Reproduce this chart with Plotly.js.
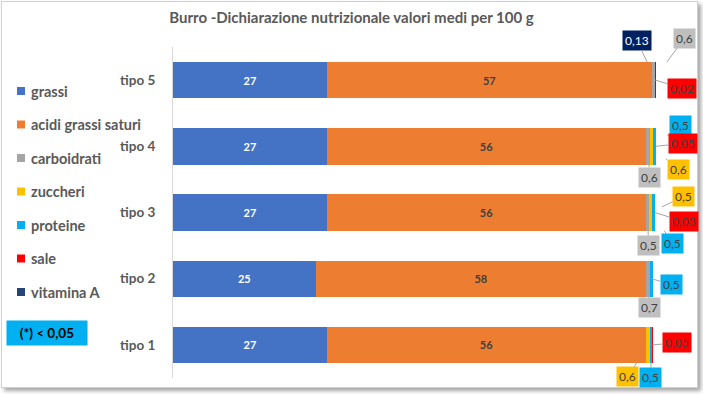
<!DOCTYPE html>
<html>
<head>
<meta charset="utf-8">
<script src="https://cdn.plot.ly/plotly-3.0.1.min.js"></script>
<style>
  html, body { margin:0; padding:0; background:#ffffff; }
  #frame { position:absolute; left:1px; top:1px; width:695px; height:385px; border:1px solid #d0d0d0; background:#ffffff; box-shadow:3px 3px 4px rgba(0,0,0,0.35); }
  #chart { position:absolute; left:0; top:0; width:703px; height:394px; }
</style>
</head>
<body>
<div id="frame"></div>
<div id="chart"></div>
<script>
// ---- data ----
const categories = ['tipo 1', 'tipo 2', 'tipo 3', 'tipo 4', 'tipo 5'];
const grassi = [27, 25, 27, 27, 27];
const acidiGrassiSaturi = [56, 58, 56, 56, 57];
const carboidrati = [null, 0.7, 0.5, 0.6, 0.6];
const zuccheri = [0.6, null, 0.5, 0.6, null];
const proteine = [0.5, 0.5, 0.5, 0.5, null];
const sale = [0.05, null, 0.03, 0.05, 0.02];
const vitaminaA = [null, null, null, null, 0.13];
const seriesNames = ['grassi', 'acidi grassi saturi', 'carboidrati', 'zuccheri', 'proteine', 'sale', 'vitamina A'];
const noteText = '(*) < 0,05';
const titleText = 'Burro -Dichiarazione nutrizionale valori medi per 100 g';

// ---- styles ----
const seriesValues = [grassi, acidiGrassiSaturi, carboidrati, zuccheri, proteine, sale, vitaminaA];
const colors = ['#4472C4', '#ED7D31', '#A5A5A5', '#FFC000', '#00B0F0', '#FF0000', '#264478'];
const calloutBg = ['#4472C4', '#ED7D31', '#BFBFBF', '#FFC000', '#00B0F0', '#FF0000', '#002060'];
const calloutFont = ['#404040', '#404040', '#404040', '#404040', '#404040', '#404040', '#FFFFFF'];
const FONT = 'Lato, "DejaVu Sans", sans-serif';
const W = 703, H = 394;
const M = {l: 173, r: 17, t: 47, b: 16};
const PW = W - M.l - M.r, PH = H - M.t - M.b;
const px2x = px => (px - M.l) / PW;
const py2y = py => (H - M.b - py) / PH;

// callout label offsets in pixels (label centre relative to segment centre)
const calloutOffsets = {
  'carboidrati': {'tipo 5': [31, -42], 'tipo 4': [2, 31], 'tipo 3': [1, 33], 'tipo 2': [1, 29]},
  'zuccheri': {'tipo 4': [27, 23], 'tipo 3': [33, -16], 'tipo 1': [-20, 32]},
  'proteine': {'tipo 4': [26, -21], 'tipo 3': [19, 31], 'tipo 2': [20, 6], 'tipo 1': [0, 33]},
  'sale': {'tipo 5': [27, 8], 'tipo 4': [27, -3], 'tipo 3': [29, 9], 'tipo 1': [24, -2]},
  'vitamina A': {'tipo 5': [-19, -40]}
};

const fmt = v => String(v).replace('.', ',');

const traces = seriesNames.map((name, i) => {
  const t = {
    type: 'bar', orientation: 'h', name: name,
    y: categories, x: seriesValues[i],
    marker: {color: colors[i], line: {width: 0}},
    hoverinfo: 'name+x', showlegend: false
  };
  if (i < 2) {
    t.text = seriesValues[i].map(v => v == null ? '' : fmt(v));
    t.texttemplate = '%{text}';
    t.textposition = 'inside';
    t.insidetextanchor = 'middle';
    t.textfont = {family: FONT, size: 11, weight: 'bold', color: i === 0 ? '#FFFFFF' : '#404040'};
  } else {
    t.textposition = 'none';
  }
  return t;
});

// callouts for small segments, positioned from cumulative data
const annotations = [];
const shapes = [];
categories.forEach((cat, ci) => {
  let cum = 0;
  seriesNames.forEach((name, si) => {
    const v = seriesValues[si][ci];
    if (v == null) return;
    const mid = cum + v / 2;
    cum += v;
    const off = calloutOffsets[name] && calloutOffsets[name][cat];
    if (!off) return;
    const ax = off[0], ay = off[1];
    const len = Math.hypot(ax, ay);
    let standoff = 0;
    if (Math.abs(ay) > 12) {
      const edge = len * (1 - 10 / Math.abs(ay));
      standoff = Math.max(0, Math.min(18 * len / Math.abs(ay), edge - 1));
    }
    annotations.push({
      xref: 'x', yref: 'y', x: mid, y: cat, ax: ax, ay: ay,
      text: fmt(v), showarrow: true, arrowhead: 0, arrowwidth: 1, arrowcolor: '#A6A6A6',
      standoff: standoff,
      bgcolor: calloutBg[si], borderpad: 2,
      font: {family: FONT, size: 12, color: calloutFont[si]}
    });
  });
});

// legend (drawn as shapes + text, to match the original spacing)
const legendTop = 91, legendStep = 33.5;
seriesNames.forEach((name, i) => {
  const cy = legendTop + i * legendStep;
  shapes.push({
    type: 'rect', xref: 'paper', yref: 'paper', xsizemode: 'pixel', ysizemode: 'pixel',
    xanchor: px2x(21), yanchor: py2y(cy), x0: -4, x1: 4, y0: -4, y1: 4,
    fillcolor: colors[i], line: {width: 0}
  });
  annotations.push({
    xref: 'paper', yref: 'paper', x: px2x(29), y: py2y(cy), xanchor: 'left', yanchor: 'middle',
    showarrow: false, text: name,
    font: {family: FONT, size: 14.5, weight: 'bold', color: '#595959'}
  });
});

annotations.push({
  xref: 'paper', yref: 'paper', x: px2x(47), y: py2y(333),
  xanchor: 'center', yanchor: 'middle', showarrow: false,
  text: noteText, width: 78, height: 22, bgcolor: '#00B0F0',
  font: {family: FONT, size: 13.5, weight: 'bold', color: '#000000'}
});

const layout = {
  width: W, height: H,
  margin: {l: M.l, r: M.r, t: M.t, b: M.b, pad: 0, autoexpand: false},
  paper_bgcolor: 'rgba(0,0,0,0)', plot_bgcolor: 'rgba(0,0,0,0)',
  separators: ',.',
  barmode: 'stack', bargap: 0.45,
  title: {text: titleText, x: 0.5, xref: 'container', xanchor: 'center',
          y: 1 - 18 / H, yref: 'container', yanchor: 'middle',
          font: {family: FONT, size: 15, weight: 'bold', color: '#595959'}},
  xaxis: {range: [0, 90], autorange: false, showgrid: false, zeroline: false, showticklabels: false, showline: false, ticks: '', fixedrange: true, automargin: false},
  yaxis: {type: 'category', range: [-0.5, categories.length - 0.5], autorange: false,
          showgrid: false, zeroline: false, showline: true, linecolor: '#D9D9D9', linewidth: 1,
          ticks: '', ticklabelstandoff: 14, automargin: false,
          tickfont: {family: FONT, size: 13.5, weight: 'bold', color: '#595959'}},
  showlegend: false,
  shapes: shapes,
  annotations: annotations
};

Plotly.newPlot('chart', traces, layout, {displayModeBar: false, staticPlot: true});
</script>
</body>
</html>
